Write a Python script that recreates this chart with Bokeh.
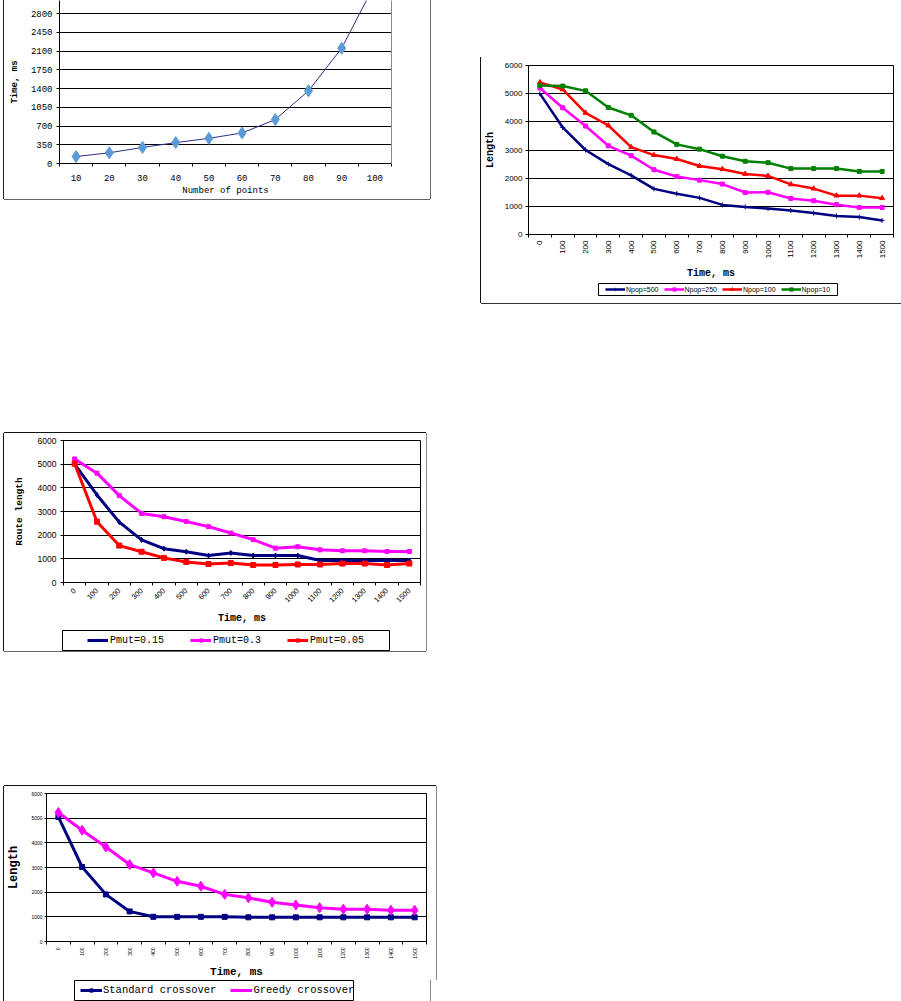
import math
from bokeh.plotting import figure
from bokeh.models import FixedTicker, LinearAxis, Legend, LegendItem, Spacer, Range1d
from bokeh.layouts import row, column
from bokeh.embed import file_html
from bokeh.resources import INLINE

MONO = "Liberation Mono"
SANS = "Liberation Sans"

# ---------------- data ----------------
# Chart 1: time vs number of points
points_n = [10, 20, 30, 40, 50, 60, 70, 80, 90, 100]
points_time = [130, 200, 300, 390, 470, 570, 820, 1357, 2153, 3350]
c1_yticks = [0, 350, 700, 1050, 1400, 1750, 2100, 2450, 2800, 3150]

# Charts 2-4: time axis (ms)
times = [0, 100, 200, 300, 400, 500, 600, 700, 800, 900, 1000, 1100, 1200, 1300, 1400, 1500]
length_ticks = [0, 1000, 2000, 3000, 4000, 5000, 6000]

# Chart 2: population size
npop500 = [5000, 3800, 3000, 2500, 2100, 1620, 1450, 1300, 1050, 980, 920, 850, 760, 660, 620, 500]
npop250 = [5200, 4500, 3850, 3150, 2800, 2300, 2060, 1930, 1790, 1490, 1500, 1280, 1200, 1060, 960, 960]
npop100 = [5400, 5150, 4320, 3870, 3100, 2820, 2680, 2430, 2320, 2150, 2080, 1780, 1630, 1380, 1380, 1290]
npop10 = [5290, 5270, 5100, 4510, 4230, 3640, 3200, 3030, 2780, 2600, 2550, 2340, 2340, 2340, 2240, 2240]

# Chart 3: mutation probability
pmut015 = [5000, 3700, 2550, 1800, 1430, 1300, 1140, 1250, 1140, 1140, 1140, 930, 930, 930, 930, 930]
pmut03 = [5220, 4620, 3670, 2920, 2780, 2580, 2360, 2090, 1810, 1450, 1510, 1380, 1340, 1340, 1310, 1310]
pmut005 = [5020, 2570, 1560, 1300, 1040, 870, 780, 820, 740, 740, 760, 760, 800, 800, 740, 800]

# Chart 4: crossover type
std_cross = [5050, 3020, 1910, 1220, 1000, 1000, 1000, 1000, 980, 980, 980, 980, 980, 980, 980, 980]
greedy_cross = [5230, 4510, 3830, 3120, 2780, 2440, 2240, 1910, 1770, 1590, 1480, 1370, 1310, 1310, 1270, 1270]

NAVY = "#000080"
MAGENTA = "#ff00ff"
RED = "#ff0000"
GREEN = "#008000"

series2 = [("Npop=500", npop500, NAVY, "cross", 5),
           ("Npop=250", npop250, MAGENTA, "square", 4),
           ("Npop=100", npop100, RED, "triangle", 5),
           ("Npop=10", npop10, GREEN, "square", 4)]
series3 = [("Pmut=0.15", pmut015, NAVY, "diamond", 5),
           ("Pmut=0.3", pmut03, MAGENTA, "square", 4),
           ("Pmut=0.05", pmut005, RED, "square", 5)]
series4 = [("Standard crossover", std_cross, NAVY, "square", 5),
           ("Greedy crossover", greedy_cross, MAGENTA, "diamond", 10)]


def base_fig(fw, fh, left, right, top, bottom, xr, yr, shadow):
    p = figure(frame_width=fw, frame_height=fh,
               min_border_left=left, min_border_right=right,
               min_border_top=top, min_border_bottom=bottom,
               x_range=xr, y_range=yr, output_backend="svg",
               toolbar_location=None, tools="", frame_align=False,
               styles={"box-shadow": shadow})
    p.xgrid.visible = False
    p.ygrid.grid_line_color = "black"
    p.ygrid.grid_line_width = 1
    p.outline_line_color = "black"
    p.background_fill_color = "white"
    p.border_fill_color = "white"
    for ax in (p.xaxis[0], p.yaxis[0]):
        ax.axis_line_color = "black"
        ax.major_tick_line_color = "black"
        ax.minor_tick_line_color = "black"
        ax.major_label_text_color = "black"
        ax.axis_label_text_color = "black"
        ax.major_tick_in = 0
        ax.minor_tick_in = 0
    return p


def time_x_axis(p, font, size, orientation, standoff, label_size, label_standoff):
    t = FixedTicker(ticks=times, minor_ticks=[v - 50 for v in times] + [times[-1] + 50])
    ax = p.xaxis[0]
    ax.ticker = t
    ax.major_tick_out = 0
    ax.minor_tick_out = 3
    ax.major_label_text_font = font
    ax.major_label_text_font_size = size
    ax.major_label_orientation = orientation
    ax.major_label_standoff = standoff
    ax.axis_label = "Time, ms"
    ax.axis_label_text_font = MONO
    ax.axis_label_text_font_style = "bold"
    ax.axis_label_text_font_size = label_size
    ax.axis_label_standoff = label_standoff


def length_y_axis(p, label, size, tick_out, standoff, label_size, label_standoff):
    t = FixedTicker(ticks=length_ticks)
    ax = p.yaxis[0]
    ax.ticker = t
    p.ygrid.ticker = t
    ax.major_tick_out = tick_out
    ax.major_label_text_font = SANS
    ax.major_label_text_font_size = size
    ax.major_label_standoff = standoff
    ax.axis_label = label
    ax.axis_label_text_font = MONO
    ax.axis_label_text_font_style = "bold"
    ax.axis_label_text_font_size = label_size
    ax.axis_label_standoff = label_standoff


def draw_series(p, series, lw):
    for name, vals, col, mk, ms in series:
        p.line(times, vals, line_color=col, line_width=lw)
        p.scatter(times, vals, marker=mk, size=ms, fill_color=col, line_color=col)


def legend_fig(series, lw, fw, fh, left, right, top, bottom, shadow, loc,
               font, size, label_h, glyph_w, standoff, spacing):
    # small strip under a chart; its frame outline is the legend box
    lf = figure(frame_width=fw, frame_height=fh,
                min_border_left=left, min_border_right=right,
                min_border_top=top, min_border_bottom=bottom,
                x_range=Range1d(0, 1), y_range=Range1d(0, 1),
                x_axis_type=None, y_axis_type=None, output_backend="svg",
                toolbar_location=None, tools="", frame_align=False,
                styles={"box-shadow": shadow})
    lf.outline_line_color = "black"
    lf.background_fill_color = "white"
    lf.border_fill_color = "white"
    items = []
    for name, vals, col, mk, ms in series:
        # same data; out of this strip's view, only its legend glyph shows
        lr = lf.line(times, vals, line_color=col, line_width=lw)
        sr = lf.scatter(times, vals, marker=mk, size=ms, fill_color=col, line_color=col)
        items.append(LegendItem(label=name, renderers=[lr, sr]))
    leg = Legend(items=items, location=loc, orientation="horizontal",
                 border_line_color=None, background_fill_alpha=0,
                 label_text_font=font, label_text_font_size=size, label_text_color="black",
                 label_height=label_h, glyph_width=glyph_w, glyph_height=8,
                 label_standoff=standoff, spacing=spacing, padding=0, margin=0)
    lf.add_layout(leg)
    return lf


# ---------------- Chart 1 ----------------
p1 = base_fig(332, 163, 55, 39, 0, 36, Range1d(5, 105), Range1d(0, 3043),
              "-1px 0 0 0 #222, 1px 0 0 0 #666, 0 1px 0 0 #666")
p1.outline_line_color = None
xt1 = FixedTicker(ticks=points_n[:], minor_ticks=[v - 5 for v in points_n] + [105])
p1.xaxis.ticker = xt1
p1.xaxis.major_tick_out = 0
p1.xaxis.minor_tick_out = 3
p1.xaxis.major_label_standoff = 8
p1.xaxis.major_label_text_font = MONO
p1.xaxis.major_label_text_font_size = "9px"
p1.xaxis.axis_label = "Number of points"
p1.xaxis.axis_label_text_font = MONO
p1.xaxis.axis_label_text_font_style = "normal"
p1.xaxis.axis_label_text_font_size = "9px"
p1.xaxis.axis_label_standoff = 2
yt1 = FixedTicker(ticks=c1_yticks)
p1.yaxis.ticker = yt1
p1.ygrid.ticker = yt1
p1.yaxis.major_tick_out = 3
p1.yaxis.major_label_standoff = 4
p1.yaxis.major_label_text_font = MONO
p1.yaxis.major_label_text_font_size = "9px"
p1.yaxis.axis_label = "Time, ms"
p1.yaxis.axis_label_text_font = MONO
p1.yaxis.axis_label_text_font_style = "bold"
p1.yaxis.axis_label_text_font_size = "9px"
p1.yaxis.axis_label_standoff = 8
rax = LinearAxis(ticker=FixedTicker(ticks=[]), axis_line_color="#888888",
                 major_label_text_font_size="0px", major_tick_out=0, minor_tick_out=0)
p1.add_layout(rax, "right")
p1.line(points_n, points_time, line_color="#2e2e8a", line_width=1)
p1.scatter(points_n, points_time, marker="diamond", size=12,
           fill_color="#5b9bd5", line_color="#5b9bd5")

# ---------------- Chart 2 ----------------
p2 = base_fig(365, 169, 44, 13, 8, 48, Range1d(-50, 1550), Range1d(0, 6000),
              "-1px 0 0 0 #111, 1px 0 0 0 #888")
time_x_axis(p2, SANS, "8px", math.pi / 2, 3, "10px", 7)
length_y_axis(p2, "Length", "8px", 3, 3, "10px", 6)
draw_series(p2, series2, 2.5)
l2 = legend_fig(series2, 2.5, 239, 12, 117, 66, 1, 8,
                "-1px 0 0 0 #111, 1px 0 0 0 #888, 0 1px 0 0 #333",
                (7, 2), SANS, "7px", 8, 20, 1, 5)

# ---------------- Chart 3 ----------------
p3 = base_fig(357, 142, 59, 6, 7, 47, Range1d(-50, 1550), Range1d(0, 6000),
              "-1px 0 0 0 #111, 0 -1px 0 0 #111, 1px 0 0 0 #888")
time_x_axis(p3, SANS, "7.5px", math.pi / 4, 4, "10px", 5)
length_y_axis(p3, "Route length", "8.5px", 3, 4, "9.5px", 10)
draw_series(p3, series3, 3)
l3 = legend_fig(series3, 3, 327, 21, 58, 37, 1, 0,
                "-1px 0 0 0 #111, 1px 0 0 0 #888, 0 1px 0 0 #666",
                (25, 5), MONO, "10px", 12, 21, 2, 26)

# ---------------- Chart 4 ----------------
p4 = base_fig(380, 148, 36, 10, 7, 38, Range1d(-50, 1550), Range1d(0, 6000),
              "-1px 0 0 0 #111, 0 -1px 0 0 #111, 1px 0 0 0 #888")
time_x_axis(p4, SANS, "5px", math.pi / 2, 3, "11px", 4)
length_y_axis(p4, "Length", "5px", 2, 2, "12px", 7)
draw_series(p4, series4, 3)
l4 = legend_fig(series4, 3, 279, 20, 70, 77, 0, 1,
                "-1px 0 0 0 #111, 1px 0 0 0 #888, 0 1px 0 0 #888",
                (6, 4), MONO, "10.5px", 12, 22, 1, 14)

# ---------------- layout ----------------
left_col = column(p1, Spacer(width=10, height=234), p3, l3,
                  Spacer(width=10, height=135), p4, l4)
right_col = column(Spacer(width=10, height=57), p2, l2)
root = row(Spacer(width=4, height=10), left_col, Spacer(width=45, height=10), right_col)

open("out.html", "w").write(file_html(root, INLINE))
